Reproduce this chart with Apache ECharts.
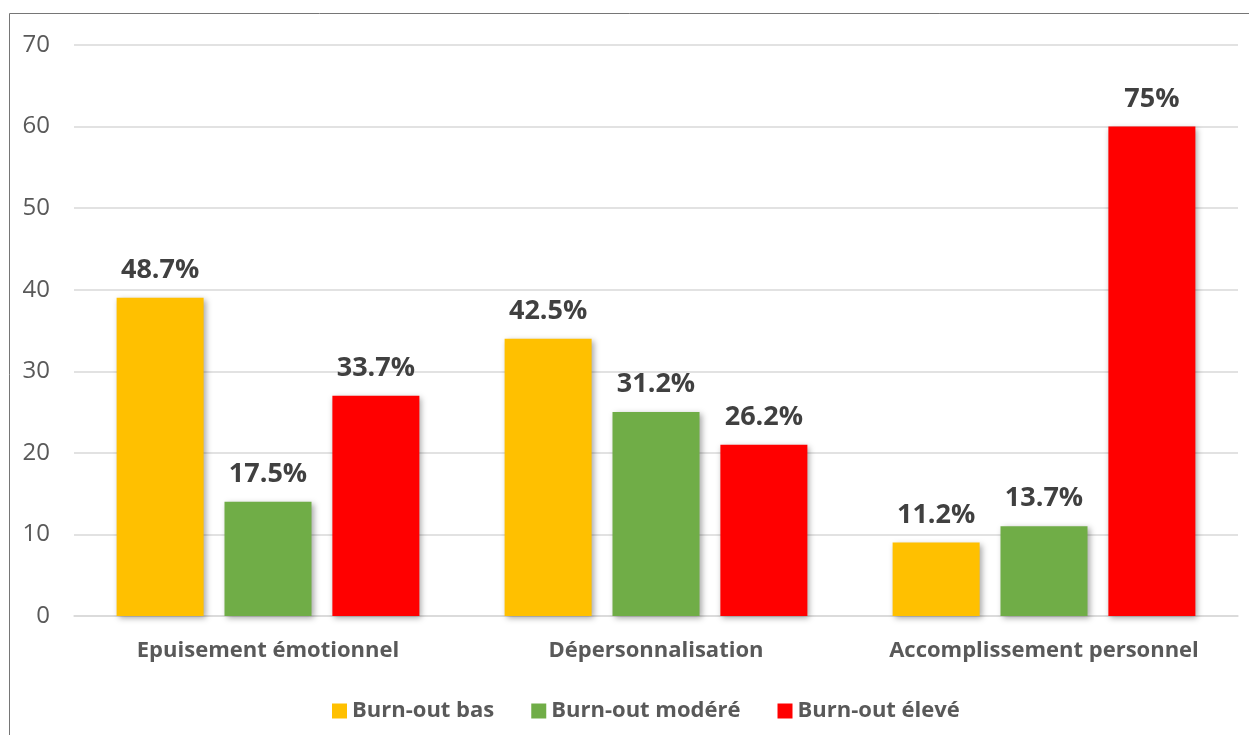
<!DOCTYPE html>
<html>
<head>
<meta charset="utf-8">
<script src="https://cdn.jsdelivr.net/npm/echarts@6/dist/echarts.min.js"></script>
<style>
  html, body { margin: 0; padding: 0; background: #ffffff; }
  #chart { width: 1249px; height: 735px; }
</style>
</head>
<body>
<div id="chart"></div>
<script>
// Dimensions of the Maslach Burnout Inventory
const categories = ['Epuisement émotionnel', 'Dépersonnalisation', 'Accomplissement personnel'];

// Number of respondents per burn-out level, for each dimension
const burnoutBas    = [39, 34, 9];
const burnoutModere = [14, 25, 11];
const burnoutEleve  = [27, 21, 60];

// Percentages printed above the bars
const labelsBas    = ['48.7%', '42.5%', '11.2%'];
const labelsModere = ['17.5%', '31.2%', '13.7%'];
const labelsEleve  = ['33.7%', '26.2%', '75%'];

const seriesNames = ['Burn-out bas', 'Burn-out modéré', 'Burn-out élevé'];
const yTicks = [0, 10, 20, 30, 40, 50, 60, 70];

const FONT = '"Open Sans", "Noto Sans", sans-serif';

function barSeries(name, values, labels, color) {
  return {
    name: name,
    type: 'bar',
    data: values,
    barWidth: 87,
    barGap: '24%',
    itemStyle: {
      color: color,
      shadowColor: 'rgba(0,0,0,0.35)',
      shadowBlur: 6,
      shadowOffsetX: 2,
      shadowOffsetY: 2
    },
    label: {
      show: true,
      position: 'top',
      distance: 14,
      fontFamily: FONT,
      fontWeight: 'bold',
      fontSize: 27,
      color: '#404040',
      formatter: p => labels[p.dataIndex]
    }
  };
}

const chart = echarts.init(document.getElementById('chart'), null, { renderer: 'canvas' });

chart.setOption({
  backgroundColor: '#ffffff',
  animation: false,
  textStyle: { fontFamily: FONT },
  graphic: [{
    type: 'rect',
    silent: true,
    shape: { x: 9.5, y: 13.5, width: 1400, height: 900 },
    style: { fill: 'none', stroke: '#767676', lineWidth: 1 }
  }],
  grid: { left: 74, right: 11, top: 45, bottom: 119, containLabel: false },
  legend: {
    data: seriesNames,
    left: 327,
    top: 693,
    itemWidth: 15,
    itemHeight: 15,
    itemGap: 37,
    icon: 'rect',
    textStyle: {
      fontFamily: FONT,
      fontWeight: 'bold',
      fontSize: 22,
      color: '#595959',
      lineHeight: 26
    }
  },
  xAxis: {
    type: 'category',
    data: categories,
    axisLine: { show: true, lineStyle: { color: '#d9d9d9', width: 1.5 } },
    axisTick: { show: false },
    axisLabel: {
      interval: 0,
      margin: 24,
      fontFamily: FONT,
      fontWeight: 'bold',
      fontSize: 22,
      color: '#595959'
    }
  },
  yAxis: {
    type: 'value',
    min: yTicks[0],
    max: yTicks[yTicks.length - 1],
    interval: 10,
    axisLine: { show: false },
    axisTick: { show: false },
    splitLine: { lineStyle: { color: '#d9d9d9', width: 1.5 } },
    axisLabel: {
      margin: 24,
      fontFamily: FONT,
      fontSize: 24,
      color: '#595959'
    }
  },
  series: [
    barSeries(seriesNames[0], burnoutBas, labelsBas, '#FFC000'),
    barSeries(seriesNames[1], burnoutModere, labelsModere, '#70AD47'),
    barSeries(seriesNames[2], burnoutEleve, labelsEleve, '#FF0000')
  ]
});
</script>
</body>
</html>
